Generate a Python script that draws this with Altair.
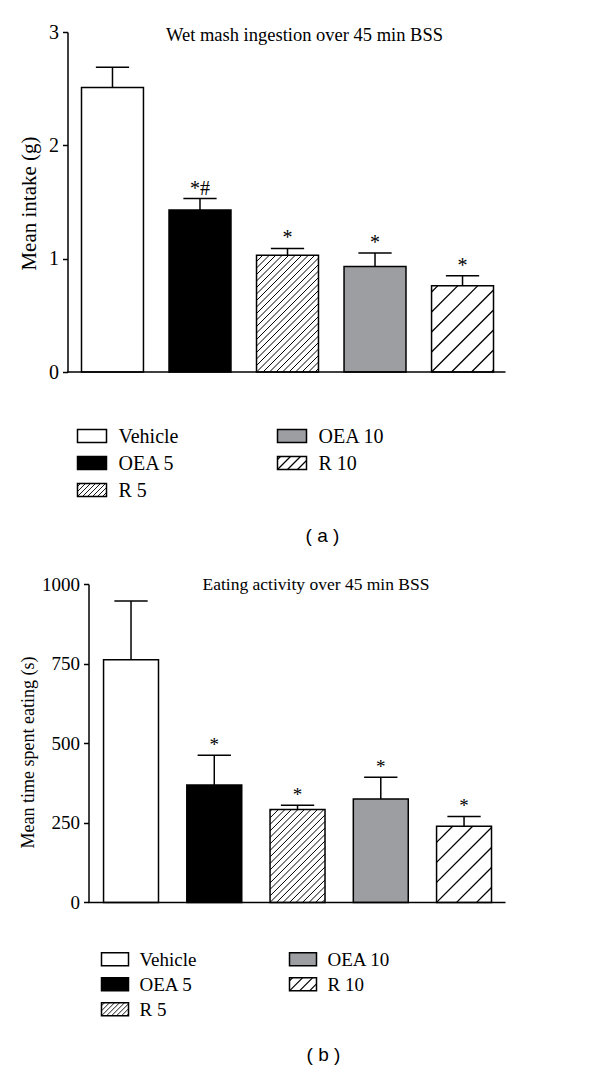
import altair as alt
import pandas as pd

# ---------------- data ----------------
groups = ["Vehicle", "OEA 5", "R 5", "OEA 10", "R 10"]
bar_pos = [0, 1, 2, 3, 4]
fill_colors = ["#ffffff", "#000000", "#ffffff", "#9d9ea2", "#ffffff"]

intake_mean = [2.51, 1.43, 1.03, 0.93, 0.76]
intake_sem = [0.18, 0.10, 0.06, 0.12, 0.09]
intake_sig = ["", "*#", "*", "*", "*"]
intake_ticks = [0, 1, 2, 3]

eating_mean = [762, 369, 292, 325, 239]
eating_sem = [185, 93, 13, 68, 31]
eating_sig = ["", "*", "*", "*", "*"]
eating_ticks = [0, 250, 500, 750, 1000]

legend_col = [0, 0, 0, 1, 1]
legend_row = [0, 1, 2, 0, 1]

SERIF = "Liberation Serif"
SANS = "Liberation Sans"

# hatch style: (bar spacing px, swatch spacing px, stroke width)
HATCH = {"R 5": (6.5, 5.0, 1.0), "R 10": (20.0, 10.0, 1.3)}

color_scale = alt.Scale(domain=groups, range=fill_colors)


def hatch_lines(x0, x1, y_lo, y_hi, w_px, h_px, step):
    """'/' hatch lines clipped to a rectangle, returned in data units."""
    out = []
    k = -int(h_px // step)
    while True:
        c = k * step
        if c >= w_px:
            break
        u0 = max(0.0, c)
        u1 = min(w_px, h_px + c)
        if u1 - u0 > 0.3:
            out.append({
                "hx": x0 + (x1 - x0) * u0 / w_px,
                "hx2": x0 + (x1 - x0) * u1 / w_px,
                "hy": y_lo + (y_hi - y_lo) * (u0 - c) / h_px,
                "hy2": y_lo + (y_hi - y_lo) * (u1 - c) / h_px,
            })
        k += 1
    return out


def panel(mean, sem, sig, ticks, ymax, title, ytitle, *, width, height, x_dom,
          half_w, cap_w, axis_shift, tick_fs, ytitle_fs, ytitle_x, ytitle_y,
          title_fs, title_dx, title_dy, star_fs):
    kx = width / (x_dom[1] - x_dom[0])
    ky = height / ymax
    df = pd.DataFrame({"group": groups, "pos": bar_pos, "mean": mean,
                       "sem": sem, "sig": sig})
    df["left"] = df["pos"] - half_w
    df["right"] = df["pos"] + half_w
    df["top"] = df["mean"] + df["sem"]
    df["cl"] = df["pos"] - cap_w
    df["cr"] = df["pos"] + cap_w
    df["zero"] = 0.0

    rows = []
    for g, p, m in zip(groups, bar_pos, mean):
        if g in HATCH:
            step, _, sw = HATCH[g]
            for seg in hatch_lines(p - half_w, p + half_w, 0.0, m,
                                   2 * half_w * kx, m * ky, step):
                seg["sw"] = sw
                rows.append(seg)
    hdf = pd.DataFrame(rows)

    base_df = pd.DataFrame({"bx": [x_dom[0] + axis_shift / kx],
                            "bx2": [x_dom[1]], "by": [0.0]})
    title_df = pd.DataFrame({"tx": [(x_dom[0] + x_dom[1]) / 2 + title_dx / kx],
                             "ty": [ymax], "txt": [title]})

    xs = alt.Scale(domain=x_dom, nice=False, zero=False)
    ys = alt.Scale(domain=[0, ymax], nice=False, zero=True)
    ax_y = alt.Axis(values=ticks, format="d", grid=False, tickSize=5,
                    tickWidth=1.5, tickColor="black", domainColor="black",
                    domainWidth=1.5, labelFont=SERIF, labelFontSize=tick_fs,
                    labelColor="black", labelPadding=4, title=ytitle,
                    titleFont=SERIF, titleFontSize=ytitle_fs,
                    titleFontWeight="normal", titleColor="black",
                    titleX=ytitle_x, titleY=ytitle_y, titleAlign="center",
                    titleBaseline="middle", titleAngle=270,
                    offset=-axis_shift)

    bars = alt.Chart(df).mark_rect(stroke="black", strokeWidth=1.5).encode(
        x=alt.X("left:Q", scale=xs, axis=None),
        x2="right:Q",
        y=alt.Y("mean:Q", scale=ys, axis=ax_y),
        y2="zero:Q",
        fill=alt.Fill("group:N", scale=color_scale, legend=None),
    )
    hatch = alt.Chart(hdf).mark_rule(color="black").encode(
        x=alt.X("hx:Q", scale=xs, axis=None), x2="hx2:Q",
        y=alt.Y("hy:Q", scale=ys, axis=ax_y), y2="hy2:Q",
        strokeWidth=alt.StrokeWidth("sw:Q", scale=None),
    )
    err = alt.Chart(df).mark_rule(color="black", strokeWidth=1.5).encode(
        x=alt.X("pos:Q", scale=xs, axis=None),
        y=alt.Y("mean:Q", scale=ys, axis=ax_y), y2="top:Q",
    )
    cap = alt.Chart(df).mark_rule(color="black", strokeWidth=1.5).encode(
        x=alt.X("cl:Q", scale=xs, axis=None), x2="cr:Q",
        y=alt.Y("top:Q", scale=ys, axis=ax_y),
    )
    stars = alt.Chart(df).mark_text(font=SERIF, fontSize=star_fs, color="black",
                                    baseline="alphabetic", dy=-4).encode(
        x=alt.X("pos:Q", scale=xs, axis=None),
        y=alt.Y("top:Q", scale=ys, axis=ax_y),
        text="sig:N",
    )
    baseline = alt.Chart(base_df).mark_rule(color="black", strokeWidth=1.5).encode(
        x=alt.X("bx:Q", scale=xs, axis=None), x2="bx2:Q",
        y=alt.Y("by:Q", scale=ys, axis=ax_y),
    )
    ttl = alt.Chart(title_df).mark_text(font=SERIF, fontSize=title_fs,
                                        color="black", align="center",
                                        baseline="middle", dy=title_dy).encode(
        x=alt.X("tx:Q", scale=xs, axis=None),
        y=alt.Y("ty:Q", scale=ys, axis=ax_y),
        text="txt:N",
    )
    return alt.layer(bars, hatch, err, cap, stars, baseline, ttl).properties(
        width=width, height=height)


def legend(*, width, height, col0_px, col_step_px, row0_px, row_step_px,
           sw_px, sh_px, text_gap_px, label_fs, caption, cap_px, cap_fs):
    x_dom = [-col0_px / col_step_px, (width - col0_px) / col_step_px]
    y_dom = [-row0_px / row_step_px, (height - row0_px) / row_step_px]
    sw_u = sw_px / col_step_px
    sh_u = sh_px / 2 / row_step_px
    df = pd.DataFrame({"group": groups, "col": legend_col, "row": legend_row})
    df["x0"] = df["col"]
    df["x1"] = df["col"] + sw_u
    df["y0"] = df["row"] - sh_u
    df["y1"] = df["row"] + sh_u
    df["tx"] = df["col"] + (sw_px + text_gap_px) / col_step_px

    rows = []
    for g, c, r in zip(groups, legend_col, legend_row):
        if g in HATCH:
            _, step, sw = HATCH[g]
            for seg in hatch_lines(c, c + sw_u, r + sh_u, r - sh_u,
                                   sw_px, sh_px, step):
                seg["sw"] = sw * 0.9
                rows.append(seg)
    hdf = pd.DataFrame(rows)
    cdf = pd.DataFrame({"cx": [(cap_px[0] - col0_px) / col_step_px],
                        "cy": [(cap_px[1] - row0_px) / row_step_px],
                        "txt": [caption]})

    xs = alt.Scale(domain=x_dom, nice=False, zero=False)
    ys = alt.Scale(domain=y_dom, nice=False, zero=False, reverse=True)

    sw = alt.Chart(df).mark_rect(stroke="black", strokeWidth=1.5).encode(
        x=alt.X("x0:Q", scale=xs, axis=None), x2="x1:Q",
        y=alt.Y("y0:Q", scale=ys, axis=None), y2="y1:Q",
        fill=alt.Fill("group:N", scale=color_scale, legend=None),
    )
    hatch = alt.Chart(hdf).mark_rule(color="black").encode(
        x=alt.X("hx:Q", scale=xs, axis=None), x2="hx2:Q",
        y=alt.Y("hy:Q", scale=ys, axis=None), y2="hy2:Q",
        strokeWidth=alt.StrokeWidth("sw:Q", scale=None),
    )
    labels = alt.Chart(df).mark_text(font=SERIF, fontSize=label_fs, color="black",
                                     align="left", baseline="middle", dy=1).encode(
        x=alt.X("tx:Q", scale=xs, axis=None),
        y=alt.Y("row:Q", scale=ys, axis=None),
        text="group:N",
    )
    cap = alt.Chart(cdf).mark_text(font=SANS, fontSize=cap_fs, color="black",
                                   align="center", baseline="middle").encode(
        x=alt.X("cx:Q", scale=xs, axis=None),
        y=alt.Y("cy:Q", scale=ys, axis=None),
        text="txt:N",
    )
    return alt.layer(sw, hatch, labels, cap).properties(width=width, height=height)


panel_a = panel(intake_mean, intake_sem, intake_sig, intake_ticks, 3,
                "Wet mash ingestion over 45 min BSS", "Mean intake (g)",
                width=438, height=340, x_dom=[-0.514, 4.491], half_w=0.354,
                cap_w=0.19, axis_shift=0, tick_fs=20, ytitle_fs=21,
                ytitle_x=-38, ytitle_y=171, title_fs=18.5, title_dx=18,
                title_dy=3, star_fs=20)

legend_a = legend(width=438, height=212, col0_px=10, col_step_px=200,
                  row0_px=64, row_step_px=27, sw_px=29, sh_px=13,
                  text_gap_px=12, label_fs=20, caption="( a )",
                  cap_px=(255, 164), cap_fs=19)

panel_b = panel(eating_mean, eating_sem, eating_sig, eating_ticks, 1000,
                "Eating activity over 45 min BSS", "Mean time spent eating (s)",
                width=438, height=318.4, x_dom=[-0.763, 4.498], half_w=0.330,
                cap_w=0.20, axis_shift=21, tick_fs=19, ytitle_fs=18,
                ytitle_x=-60, ytitle_y=168, title_fs=17.5, title_dx=29.5,
                title_dy=1, star_fs=19)

legend_b = legend(width=438, height=150, col0_px=34, col_step_px=188,
                  row0_px=56.3, row_step_px=25, sw_px=27, sh_px=13,
                  text_gap_px=11, label_fs=19, caption="( b )",
                  cap_px=(256, 152.3), cap_fs=19)

chart = alt.vconcat(panel_a, legend_a, panel_b, legend_b, spacing=0,
                    bounds="flush").properties(
    padding={"left": 10.5, "top": 14, "right": 10, "bottom": 0},
    background="white",
).configure_view(stroke=None)

chart.save("out.html", embed_options={"renderer": "svg", "actions": False})
